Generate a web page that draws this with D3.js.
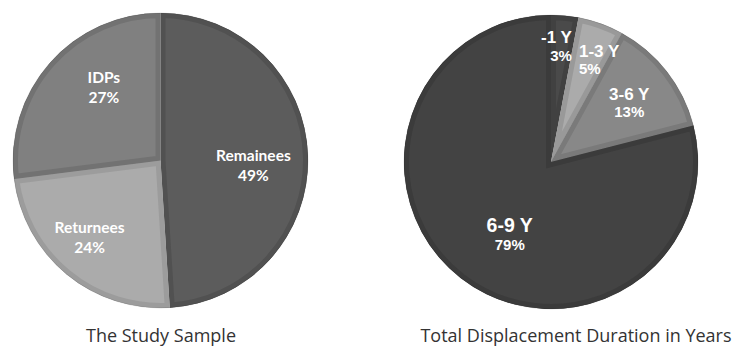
<!DOCTYPE html>
<html>
<head>
<meta charset="utf-8">
<script src="https://cdn.jsdelivr.net/npm/d3@7"></script>
<style>
  html, body { margin: 0; padding: 0; background: #fff; }
  svg { display: block; }
</style>
</head>
<body>
<svg id="chart" width="735" height="354"></svg>
<script>
// Study sample composition
const sampleCategories = ["Remainees", "Returnees", "IDPs"];
const sampleValues = [49, 24, 27];

// Total displacement duration
const durationCategories = ["-1 Y", "1-3 Y", "3-6 Y", "6-9 Y"];
const durationValues = [3, 5, 13, 79];

const chartTitles = ["The Study Sample", "Total Displacement Duration in Years"];

// Slice shading: fill and inner bevel edge
const sampleFills = ["#5c5c5c", "#ababab", "#808080"];
const sampleEdges = ["#515151", "#9c9c9c", "#727272"];
const durationFills = ["#4a4a4a", "#ababab", "#888888", "#434343"];
const durationEdges = ["#414141", "#999999", "#7a7a7a", "#3b3b3b"];

// Label placement: radial fraction, angular nudge (deg), text anchor
const sampleLabelPlace = [
  { r: 0.63, shift: 2.4, anchor: "middle" },
  { r: 0.69, shift: 4.6, anchor: "middle" },
  { r: 0.65, shift: 12.4, anchor: "middle" }
];
const durationLabelPlace = [
  { r: 0.82, shift: 4.6, anchor: "end" },
  { r: 0.74, shift: -4.9, anchor: "start" },
  { r: 0.68, shift: -0.7, anchor: "middle" },
  { r: 0.55, shift: -7.1, anchor: "middle" }
];

const svg = d3.select("#chart");

function drawPie(opts) {
  const g = svg.append("g").attr("transform", `translate(${opts.cx},${opts.cy})`);
  const data = opts.categories.map((c, i) => ({ name: c, value: opts.values[i], i }));
  const pie = d3.pie().value(d => d.value).sort(null);
  const arcs = pie(data);
  const arc = d3.arc().innerRadius(0).outerRadius(opts.r);

  const slices = g.selectAll("g.slice").data(arcs).enter().append("g").attr("class", "slice");

  slices.append("clipPath")
    .attr("id", d => `${opts.id}-clip-${d.index}`)
    .append("path").attr("d", arc);

  slices.append("path")
    .attr("d", arc)
    .attr("fill", d => opts.fills[d.index]);

  // inner bevel edge, clipped to each slice
  slices.append("path")
    .attr("d", arc)
    .attr("fill", "none")
    .attr("stroke", d => opts.edges[d.index])
    .attr("stroke-width", opts.edgeWidth)
    .attr("stroke-linejoin", "miter")
    .attr("clip-path", d => `url(#${opts.id}-clip-${d.index})`);

  // faint outline round the whole disc
  g.append("circle").attr("r", opts.r).attr("fill", "none")
    .attr("stroke", "rgba(0,0,0,0.12)").attr("stroke-width", 1);

  const labels = g.selectAll("text.lbl").data(arcs).enter().append("text")
    .attr("class", "lbl")
    .attr("fill", "#fff")
    .attr("font-family", opts.font)
    .attr("font-weight", "bold")
    .attr("text-anchor", d => opts.place[d.index].anchor)
    .attr("transform", d => {
      const p = opts.place[d.index];
      const a = (d.startAngle + d.endAngle) / 2 + p.shift * Math.PI / 180;
      const rr = p.r * opts.r;
      return `translate(${rr * Math.sin(a)},${-rr * Math.cos(a)})`;
    });

  labels.append("tspan")
    .attr("x", 0).attr("y", 0)
    .attr("font-size", d => opts.nameSize(d))
    .text(d => d.data.name);
  labels.append("tspan")
    .attr("x", 0).attr("y", d => opts.gap(d))
    .attr("font-size", d => opts.pctSize(d))
    .text(d => d.data.value + "%");

  svg.append("text")
    .attr("x", opts.titleX).attr("y", opts.titleY)
    .attr("text-anchor", "middle")
    .attr("font-family", "'Open Sans', 'Noto Sans', sans-serif")
    .attr("font-size", 18)
    .attr("fill", "#333")
    .text(opts.title);
}

drawPie({
  id: "sample", cx: 160.5, cy: 160.5, r: 147.5,
  categories: sampleCategories, values: sampleValues,
  fills: sampleFills, edges: sampleEdges, edgeWidth: 10,
  place: sampleLabelPlace,
  font: "Lato, 'Open Sans', sans-serif",
  nameSize: () => 15.5, pctSize: () => 15.5, gap: () => 19.5,
  title: chartTitles[0], titleX: 161, titleY: 342
});

drawPie({
  id: "duration", cx: 551, cy: 162, r: 147,
  categories: durationCategories, values: durationValues,
  fills: durationFills, edges: durationEdges, edgeWidth: 10,
  place: durationLabelPlace,
  font: "'Liberation Sans', Arial, sans-serif",
  nameSize: d => d.index === 3 ? 19.5 : 17,
  pctSize: d => 15,
  gap: d => d.index === 3 ? 18 : 17.5,
  title: chartTitles[1], titleX: 576, titleY: 342
});
</script>
</body>
</html>
